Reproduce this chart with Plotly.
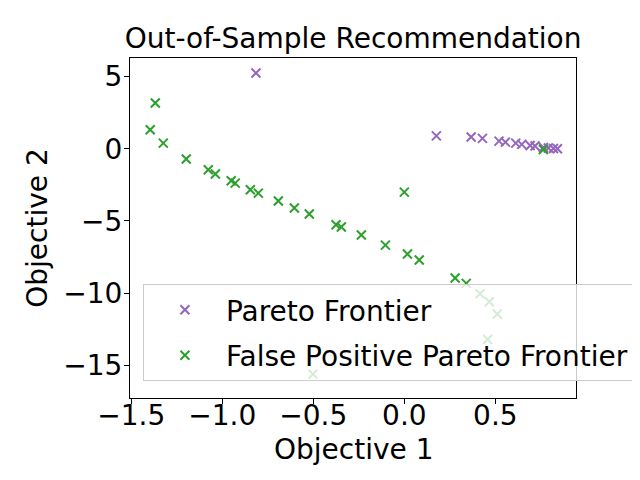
import plotly.graph_objects as go

# Pareto frontier (purple)
pareto_x = [-0.815, 0.176, 0.367, 0.429, 0.520, 0.555, 0.612, 0.645, 0.691,
            0.718, 0.764, 0.791, 0.819, 0.841]
pareto_y = [5.24, 0.89, 0.81, 0.72, 0.53, 0.46, 0.39, 0.30, 0.23,
            0.19, 0.09, 0.05, 0.02, 0.0]

# false positive pareto frontier (green)
fp_x = [-1.368, -1.396, -1.324, -1.198, -1.077, -1.038, -0.951, -0.929, -0.846,
        -0.802, -0.692, -0.604, -0.522, -0.375, -0.346, -0.236, -0.104, 0.017,
        0.082, 0.0, 0.279, 0.340, 0.416, 0.467, 0.511, 0.458, -0.502, 0.764]
fp_y = [3.16, 1.31, 0.39, -0.71, -1.45, -1.75, -2.21, -2.38, -2.84,
        -3.07, -3.62, -4.10, -4.52, -5.26, -5.42, -5.97, -6.67, -7.29,
        -7.70, -3.0, -8.95, -9.32, -10.03, -10.59, -11.44, -13.2, -15.6, -0.05]

FONT = "DejaVu Sans"
FS = 28  # ~20pt at 100 dpi


def _trace(x, y, name, color, group):
    return go.Scatter(
        x=x, y=y, mode="markers", name=name, legendgroup=group,
        marker=dict(symbol="x-thin", size=9, color=color,
                    line=dict(color=color, width=2)),
    )


fig = go.Figure()
fig.add_trace(_trace(pareto_x, pareto_y, "Pareto Frontier", "#9467bd", "a"))
fig.add_trace(_trace(fp_x, fp_y, "False Positive Pareto Frontier", "#2ca02c", "b"))

axis = dict(
    showline=True, linecolor="black", linewidth=1, mirror=True,
    ticks="outside", ticklen=5, tickcolor="black", showgrid=False,
    zeroline=False, tickangle=0, tickfont=dict(size=FS, color="black"),
)
# page body has an 8px margin, so the figure is 632x472 and shifted
fig.update_layout(
    width=632, height=472,
    template="plotly_white",
    font=dict(family=FONT, color="black"),
    title=dict(text="Out-of-Sample Recommendation", x=0.546, xanchor="center",
               y=0.937, yanchor="middle", font=dict(size=FS)),
    xaxis=dict(axis, range=[-1.507, 0.943], tickvals=[-1.5, -1.0, -0.5, 0.0, 0.5],
               ticktext=["\u22121.5", "\u22121.0", "\u22120.5", "0.0", "0.5"],
               ticklabelstandoff=-13),
    yaxis=dict(axis, range=[-17.25, 6.28], tickvals=[5, 0, -5, -10, -15],
               ticktext=["5", "0", "\u22125", "\u221210", "\u221215"],
               ticklabelstandoff=-4,
               title=dict(text="Objective 2", font=dict(size=FS), standoff=7)),
    margin=dict(l=122, r=64, t=50, b=82, autoexpand=False),
    showlegend=True,
    legend=dict(x=0.029, y=0.335, xanchor="left", yanchor="top",
                bgcolor="rgba(255,255,255,0.8)", bordercolor="#cccccc",
                borderwidth=1, font=dict(size=FS), tracegroupgap=6,
                itemwidth=72, traceorder="grouped"),
    plot_bgcolor="white", paper_bgcolor="white",
)
fig.add_annotation(text="Objective 1", xref="paper", yref="paper", x=0.5,
                   y=-0.152, xanchor="center", yanchor="middle",
                   showarrow=False, font=dict(size=FS))

fig.write_html("out.html")
